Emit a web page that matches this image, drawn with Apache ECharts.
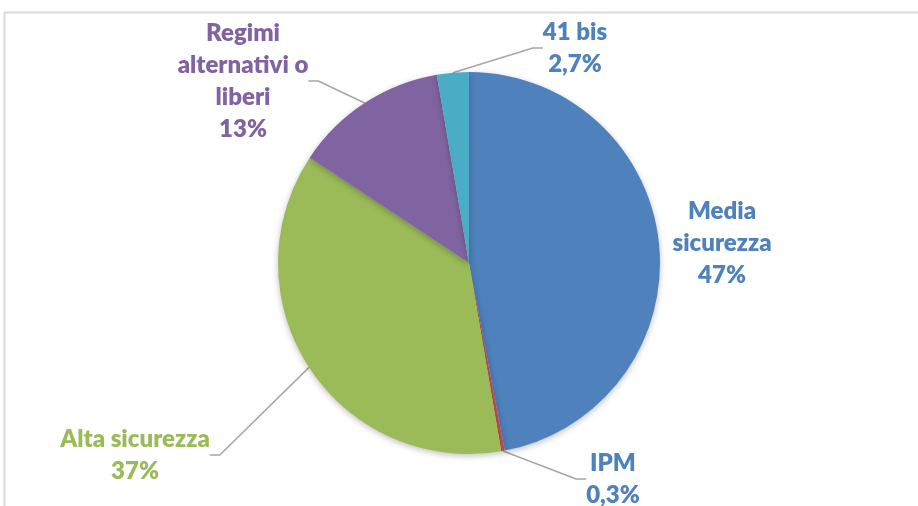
<!DOCTYPE html>
<html>
<head>
<meta charset="utf-8">
<script src="https://cdn.jsdelivr.net/npm/echarts@6/dist/echarts.min.js"></script>
<style>
  html, body { margin: 0; padding: 0; background: #fff; }
  #chart { width: 918px; height: 506px; }
</style>
</head>
<body>
<div id="chart"></div>
<script>
// dati
const categories = ['Media sicurezza', 'IPM', 'Alta sicurezza', 'Regimi alternativi o liberi', '41 bis'];
const labelNames = ['Media\nsicurezza', 'IPM', 'Alta sicurezza', 'Regimi\nalternativi o\nliberi', '41 bis'];
const values = [47, 0.3, 37, 13, 2.7];
const valueLabels = ['47%', '0,3%', '37%', '13%', '2,7%'];

const sliceColors = ['#4F81BD', '#C0504D', '#9BBB59', '#8064A2', '#4BACC6'];
const labelColors = ['#4F81BD', '#4F81BD', '#9BBB59', '#8064A2', '#4F81BD'];
// posizione delle etichette (centro del blocco di testo)
const labelPos = [[722, 243], [613, 479], [135, 455], [243, 81], [575, 48]];

const chart = echarts.init(document.getElementById('chart'));

const option = {
  animation: false,
  backgroundColor: '#fff',
  graphic: [{
    type: 'rect',
    shape: { x: 4.5, y: 12.5, width: 1000, height: 600 },
    style: { fill: 'none', stroke: '#D9D9D9', lineWidth: 2 },
    silent: true
  }],
  series: [{
    type: 'pie',
    center: [469, 263],
    radius: 191,
    startAngle: 90,
    clockwise: true,
    avoidLabelOverlap: false,
    itemStyle: {
      shadowBlur: 6,
      shadowOffsetY: 2,
      shadowColor: 'rgba(0,0,0,0.25)'
    },
    label: {
      show: true,
      fontFamily: 'Lato',
      fontWeight: 800,
      fontSize: 24,
      lineHeight: 32,
      align: 'center'
    },
    labelLine: {
      show: true,
      length2: 10,
      lineStyle: { color: '#A6A6A6', width: 1.5 }
    },
    labelLayout: function (params) {
      const p = labelPos[params.dataIndex];
      return { x: p[0], y: p[1], align: 'center', verticalAlign: 'middle' };
    },
    emphasis: { disabled: true },
    data: categories.map(function (name, i) {
      return {
        name: name,
        value: values[i],
        itemStyle: { color: sliceColors[i] },
        label: {
          formatter: labelNames[i] + '\n' + valueLabels[i],
          color: labelColors[i]
        },
        labelLine: { show: i !== 0 }
      };
    })
  }]
};

chart.setOption(option);
</script>
</body>
</html>
